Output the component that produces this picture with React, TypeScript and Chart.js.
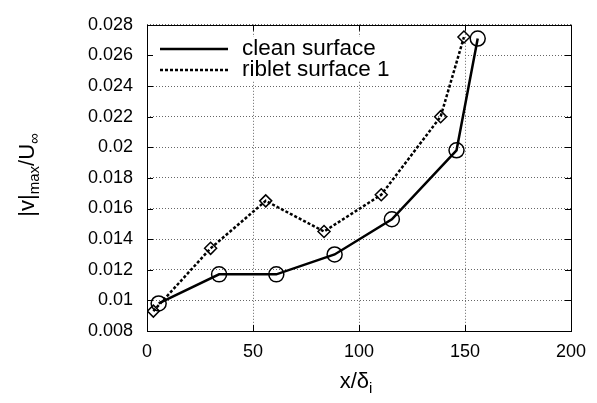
import React, { useEffect, useRef } from "react";
import { Chart, registerables } from "chart.js";
Chart.register(...registerables);

const cleanX = [5.5, 34, 61, 88.5, 115.5, 146, 156];
const cleanY = [0.0098, 0.0117, 0.0117, 0.013, 0.0153, 0.0198, 0.0271];
const ribletX = [3, 30, 56, 83.5, 110.5, 138.5, 149.5];
const ribletY = [0.0093, 0.0134, 0.0165, 0.0145, 0.0169, 0.022, 0.0272];
const seriesNames = ["clean surface", "riblet surface 1"];
const xTitle = ["x/δ", "i"];
const yTitle = ["|v|", "max", "/U", "∞"];

const FONT = "'Liberation Sans', Arial, sans-serif";

const decorPlugin = {
  id: "decor",
  beforeDatasetsDraw(chart: any) {
    const ctx = chart.ctx;
    const a = chart.chartArea;
    ctx.save();
    ctx.fillStyle = "#fff";
    ctx.fillRect(a.left + 1, 37, 462 - a.left, 44);
    ctx.restore();
  },
  afterDraw(chart: any) {
    const ctx = chart.ctx;
    const a = chart.chartArea;
    const xs = chart.scales.x;
    const ys = chart.scales.y;
    ctx.save();
    // box
    ctx.strokeStyle = "#000";
    ctx.lineWidth = 1;
    ctx.setLineDash([]);
    ctx.strokeRect(Math.round(a.left) + 0.5, Math.round(a.top) + 0.5, Math.round(a.right - a.left), Math.round(a.bottom - a.top));
    // inward ticks
    const tl = 6;
    ctx.beginPath();
    ys.ticks.forEach((t: any) => {
      const y = Math.round(ys.getPixelForValue(t.value)) + 0.5;
      ctx.moveTo(a.left, y);
      ctx.lineTo(a.left + tl, y);
      ctx.moveTo(a.right, y);
      ctx.lineTo(a.right - tl, y);
    });
    xs.ticks.forEach((t: any) => {
      const x = Math.round(xs.getPixelForValue(t.value)) + 0.5;
      ctx.moveTo(x, a.bottom);
      ctx.lineTo(x, a.bottom - tl);
      ctx.moveTo(x, a.top);
      ctx.lineTo(x, a.top + tl);
    });
    ctx.stroke();

    // legend
    ctx.lineWidth = 2.5;
    ctx.beginPath();
    ctx.moveTo(160, 49);
    ctx.lineTo(228, 49);
    ctx.stroke();
    ctx.setLineDash([3, 2]);
    ctx.beginPath();
    ctx.moveTo(160, 70);
    ctx.lineTo(228, 70);
    ctx.stroke();
    ctx.setLineDash([]);
    ctx.fillStyle = "#000";
    ctx.font = `22.5px ${FONT}`;
    ctx.textBaseline = "middle";
    ctx.textAlign = "left";
    ctx.fillText(seriesNames[0], 242, 49);
    ctx.fillText(seriesNames[1], 242, 70);

    // x title
    ctx.textBaseline = "alphabetic";
    const big = `22px ${FONT}`;
    const small = `15px ${FONT}`;
    ctx.font = big;
    const w1 = ctx.measureText(xTitle[0]).width;
    ctx.font = small;
    const w2 = ctx.measureText(xTitle[1]).width;
    let x0 = 356 - (w1 + w2) / 2;
    ctx.font = big;
    ctx.fillText(xTitle[0], x0, 388);
    ctx.font = small;
    ctx.fillText(xTitle[1], x0 + w1, 393);

    // y title
    const parts = [
      { t: yTitle[0], f: big, dy: 0 },
      { t: yTitle[1], f: small, dy: 5 },
      { t: yTitle[2], f: big, dy: 0 },
      { t: yTitle[3], f: small, dy: 5 },
    ];
    let total = 0;
    const widths = parts.map((p) => {
      ctx.font = p.f;
      const w = ctx.measureText(p.t).width;
      total += w;
      return w;
    });
    ctx.translate(34, 175);
    ctx.rotate(-Math.PI / 2);
    let cx = -total / 2;
    parts.forEach((p, i) => {
      ctx.font = p.f;
      ctx.fillText(p.t, cx, p.dy);
      cx += widths[i];
    });
    ctx.restore();
  },
};

export default function App() {
  const ref = useRef<HTMLCanvasElement>(null);
  useEffect(() => {
    const canvas = ref.current!;
    const chart = new Chart(canvas, {
      type: "line",
      data: {
        datasets: [
          {
            label: seriesNames[0],
            data: cleanX.map((x, i) => ({ x, y: cleanY[i] })),
            borderColor: "#000",
            borderWidth: 2.5,
            pointStyle: "circle",
            pointRadius: 7.5,
            pointBorderWidth: 1.5,
            pointBorderColor: "#000",
            pointBackgroundColor: "rgba(0,0,0,0)",
            tension: 0,
          },
          {
            label: seriesNames[1],
            data: ribletX.map((x, i) => ({ x, y: ribletY[i] })),
            borderColor: "#000",
            borderWidth: 2.5,
            borderDash: [3, 2],
            pointStyle: "rectRot",
            pointRadius: 6,
            pointBorderWidth: 1.5,
            pointBorderColor: "#000",
            pointBackgroundColor: "rgba(0,0,0,0)",
            tension: 0,
          },
        ],
      },
      options: {
        animation: false,
        responsive: true,
        maintainAspectRatio: false,
        layout: { padding: { left: 0, right: 26, top: 19, bottom: 0 } },
        plugins: { legend: { display: false }, tooltip: { enabled: false } },
        scales: {
          x: {
            type: "linear",
            min: 0,
            max: 200,
            ticks: { stepSize: 50, color: "#000", font: { family: FONT, size: 18 }, padding: 10, maxRotation: 0 },
            grid: { color: "#666", lineWidth: 1, drawTicks: false },
            border: { display: false, dash: [1, 2] },
            afterFit: (s: any) => {
              s.height = 72;
            },
          } as any,
          y: {
            type: "linear",
            min: 0.008,
            max: 0.028,
            ticks: {
              stepSize: 0.002,
              color: "#000",
              font: { family: FONT, size: 18 },
              padding: 14,
              callback: (v: any) => String(Number(Number(v).toFixed(3))),
            },
            grid: { color: "#666", lineWidth: 1, drawTicks: false },
            border: { display: false, dash: [1, 2] },
            afterFit: (s: any) => {
              s.width = 147;
            },
          } as any,
        },
      },
      plugins: [decorPlugin],
    });
    return () => chart.destroy();
  }, []);
  return (
    <div style={{ position: "absolute", left: 0, top: 0, width: 597, height: 403, background: "#fff" }}>
      <canvas ref={ref} />
    </div>
  );
}
